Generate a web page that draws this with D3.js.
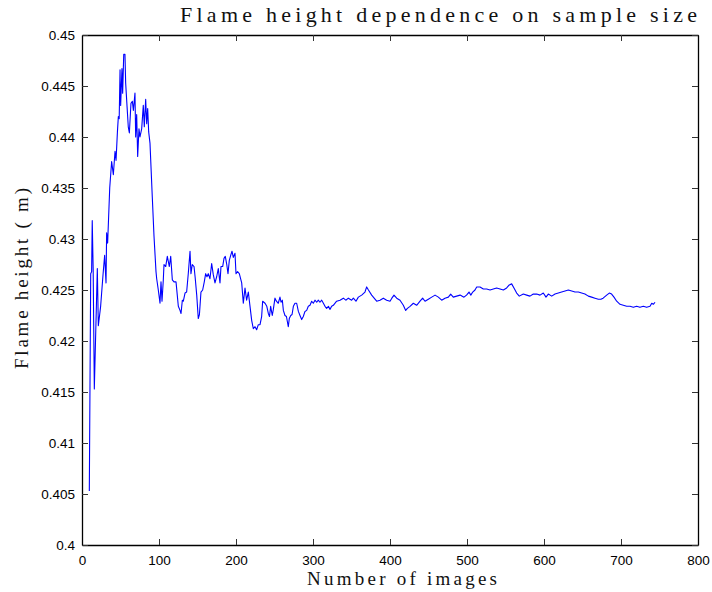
<!DOCTYPE html>
<html>
<head>
<meta charset="utf-8">
<script src="https://cdn.jsdelivr.net/npm/d3@7"></script>
<style>
  body { margin: 0; background: #fff; }
  .tick text { font-family: "Liberation Sans", Arial, sans-serif; font-size: 13.5px; fill: #000; }
  .lbl { font-family: "Liberation Serif", "DejaVu Serif", serif; fill: #111; }
</style>
</head>
<body>
<svg id="chart" width="712" height="592"></svg>
<script>
// sample count vs mean flame height
const nImages = [
  9.5, 11.3, 12.5, 13.3, 14.5, 16, 19.9, 21.2, 24.2, 27.3, 29.4, 31.2, 32, 33.3, 36, 38.5, 40.7, 42.9, 44.2, 46,
  47.2, 48.3, 49.4, 50.2, 51.9, 52.8, 54.2, 55.8, 56.7, 58.5, 60.1, 61.5, 63.6, 65.4, 66.7, 68.8, 69.7, 71, 72.3, 74,
  75.3, 77.5, 79.6, 80.9, 82.7, 84, 85.3, 86.6, 88.3, 91.3, 93.5, 96.1, 97, 99.1, 101.3, 102.6, 103.9, 105.6, 106.5, 108.7,
  110.8, 113.4, 115.2, 117.3, 119.5, 122.1, 125.1, 127.3, 128.6, 130.3, 131.6, 133.8, 135.9, 138, 140.3, 141.5, 143.2, 145.5, 147, 149,
  151, 152.5, 154.5, 156.7, 158.8, 160.6, 162.3, 164, 166.2, 168.4, 170.5, 172.7, 174.9, 177, 179.2, 180.5, 182.7, 184.4, 186.1, 188,
  189.6, 191.3, 193.1, 194.8, 196.5, 198.7, 200, 202, 204.3, 207.4, 209.5, 211.7, 213.8, 216, 218.2, 220.4, 222.5, 224.7, 226.8, 229,
  231.2, 233.3, 234.6, 237.7, 240, 242, 243.5, 245, 247.1, 248.5, 250.6, 252.5, 254.9, 257.1, 258.5, 260.2, 261.5, 263.6, 265.5, 267.9,
  269.2, 271.1, 272.8, 274.5, 276.6, 278.8, 281, 283.1, 285.3, 287.4, 289.6, 291.8, 293.9, 296.1, 298.3, 300.4, 302.6, 304.8, 306.9, 309,
  311.3, 313.5, 315.6, 317.7, 320, 322.1, 324.2, 326.4, 330.7, 335.1, 339.4, 342.6, 345.9, 350.2, 352.4, 355.8, 358.9, 363.2, 367.5, 369.7,
  372, 376.2, 380.5, 382.7, 387, 391.3, 395.7, 400, 402.4, 405.2, 408.7, 413, 417.3, 420.4, 422.6, 426, 430.3, 434.6, 439, 442.4,
  445.5, 449.8, 454.2, 458.5, 462.8, 467.1, 471.4, 475.8, 478.8, 482.2, 486.6, 491, 496.1, 499.4, 502.6, 505, 507.4, 510.4, 512.6, 516.9,
  521.2, 525.5, 529.9, 534.2, 538.5, 542.9, 547.2, 551.5, 554.9, 558, 561, 564.5, 567.9, 573.1, 577.5, 581.8, 586.1, 590.5, 594.8, 599.1,
  602.6, 605.6, 610, 614.3, 618.6, 622.9, 627.3, 631.6, 636, 640.3, 644.6, 648.9, 653.2, 657.6, 661.9, 666.2, 670.6, 673.8, 676.8, 681.4,
  684.8, 687.8, 690.9, 694.4, 698.7, 703, 707.4, 711.7, 716, 720.3, 724.6, 729, 733.3, 737.7, 739.9, 742, 744.2
];
const flameHeight = [
  .4053, .4266, .4268, .4318, .4270, .4153, .4271, .4215, .4234, .4265, .4284, .4257, .4306, .4296, .4350, .4376, .4363, .4386, .4377, .4405,
  .4420, .4418, .4466, .4431, .4467, .4443, .4481, .4481, .4453, .4430, .4410, .4404, .4433, .4435, .4426, .4443, .4400, .4422, .4381, .4408,
  .4400, .4408, .4431, .4410, .4437, .4413, .4428, .4405, .4394, .4341, .4303, .4268, .4261, .4250, .4237, .4258, .4239, .4260, .4275, .4273,
  .4283, .4273, .4283, .4260, .4258, .4258, .4234, .4230, .4227, .4240, .4239, .4247, .4248, .4266, .4288, .4266, .4275, .4273, .4262, .4245,
  .4222, .4226, .4248, .4250, .4258, .4266, .4263, .4266, .4261, .4276, .4265, .4257, .4263, .4271, .4257, .4273, .4273, .4281, .4283, .4275,
  .4266, .4279, .4284, .4288, .4282, .4286, .4266, .4268, .4266, .4257, .4237, .4252, .4240, .4248, .4234, .4220, .4212, .4214, .4211, .4216,
  .4216, .4224, .4239, .4237, .4234, .4227, .4224, .4234, .4225, .4231, .4242, .4239, .4237, .4243, .4238, .4240, .4230, .4225, .4224, .4214,
  .4222, .4225, .4226, .4234, .4237, .4237, .4229, .4225, .4221, .4224, .4229, .4230, .4234, .4235, .4239, .4237, .4240, .4238, .4240, .4238,
  .4240, .4237, .4234, .4232, .4234, .4231, .4234, .4235, .4239, .4240, .4242, .4240, .4242, .4240, .4242, .4239, .4243, .4245, .4248, .4253,
  .4250, .4245, .4241, .4239, .4240, .4242, .4240, .4239, .4242, .4245, .4242, .4240, .4235, .4230, .4232, .4234, .4237, .4235, .4239, .4242,
  .4239, .4241, .4243, .4245, .4243, .4240, .4242, .4243, .4246, .4243, .4244, .4245, .4243, .4245, .4248, .4245, .4248, .4250, .4253, .4253,
  .4251, .4251, .4250, .4251, .4252, .4251, .4250, .4252, .4255, .4256, .4252, .4247, .4244, .4246, .4245, .4244, .4246, .4246, .4245, .4247,
  .4243, .4246, .4244, .4246, .4247, .4248, .4249, .4250, .4249, .4248, .4248, .4247, .4246, .4244, .4243, .4242, .4241, .4241, .4242, .4245,
  .4247, .4246, .4243, .4239, .4236, .4235, .4234, .4234, .4233, .4234, .4233, .4234, .4233, .4234, .4237, .4236, .4238
];
const xTicks = [0, 100, 200, 300, 400, 500, 600, 700, 800];
const yTicks = [0.4, 0.405, 0.41, 0.415, 0.42, 0.425, 0.43, 0.435, 0.44, 0.445, 0.45];

const margin = { top: 35, right: 14, bottom: 47, left: 82 };
const width = 712 - margin.left - margin.right;
const height = 592 - margin.top - margin.bottom;

const svg = d3.select("#chart");
const g = svg.append("g").attr("transform", `translate(${margin.left},${margin.top})`);

const x = d3.scaleLinear().domain([0, 800]).range([0, width]);
const y = d3.scaleLinear().domain([0.4, 0.45]).range([height, 0]);

const fmtY = d => String(+d.toFixed(3));

// matlab-style box: ticks point inward on all four sides
const styleAxis = sel => {
  sel.select(".domain").attr("stroke", "#000").attr("stroke-width", 1.3);
  sel.selectAll(".tick line").attr("stroke", "#333");
};

g.append("g").attr("transform", `translate(0,${height})`)
  .call(d3.axisBottom(x).tickValues(xTicks).tickSizeInner(-6).tickSizeOuter(0).tickPadding(10))
  .call(styleAxis);
g.append("g")
  .call(d3.axisTop(x).tickValues(xTicks).tickSizeInner(-6).tickSizeOuter(0).tickFormat(""))
  .call(styleAxis);
g.append("g")
  .call(d3.axisLeft(y).tickValues(yTicks).tickSizeInner(-6).tickSizeOuter(0).tickPadding(7).tickFormat(fmtY))
  .call(styleAxis);
g.append("g").attr("transform", `translate(${width},0)`)
  .call(d3.axisRight(y).tickValues(yTicks).tickSizeInner(-6).tickSizeOuter(0).tickFormat(""))
  .call(styleAxis);

const line = d3.line()
  .x((d, i) => x(nImages[i]))
  .y(d => y(d));

g.append("path")
  .datum(flameHeight)
  .attr("fill", "none")
  .attr("stroke", "#0000ff")
  .attr("stroke-width", 1.1)
  .attr("stroke-linejoin", "round")
  .attr("d", line);

// titles
svg.append("text").attr("class", "lbl")
  .attr("x", 180).attr("y", 22)
  .attr("font-size", 22)
  .attr("textLength", 517).attr("lengthAdjust", "spacing")
  .text("Flame height dependence on sample size");

svg.append("text").attr("class", "lbl")
  .attr("x", 307).attr("y", 585)
  .attr("font-size", 19)
  .attr("textLength", 190).attr("lengthAdjust", "spacing")
  .text("Number of images");

svg.append("text").attr("class", "lbl")
  .attr("transform", "translate(28,369) rotate(-90)")
  .attr("font-size", 19)
  .attr("textLength", 181).attr("lengthAdjust", "spacing")
  .text("Flame height ( m)");
</script>
</body>
</html>
